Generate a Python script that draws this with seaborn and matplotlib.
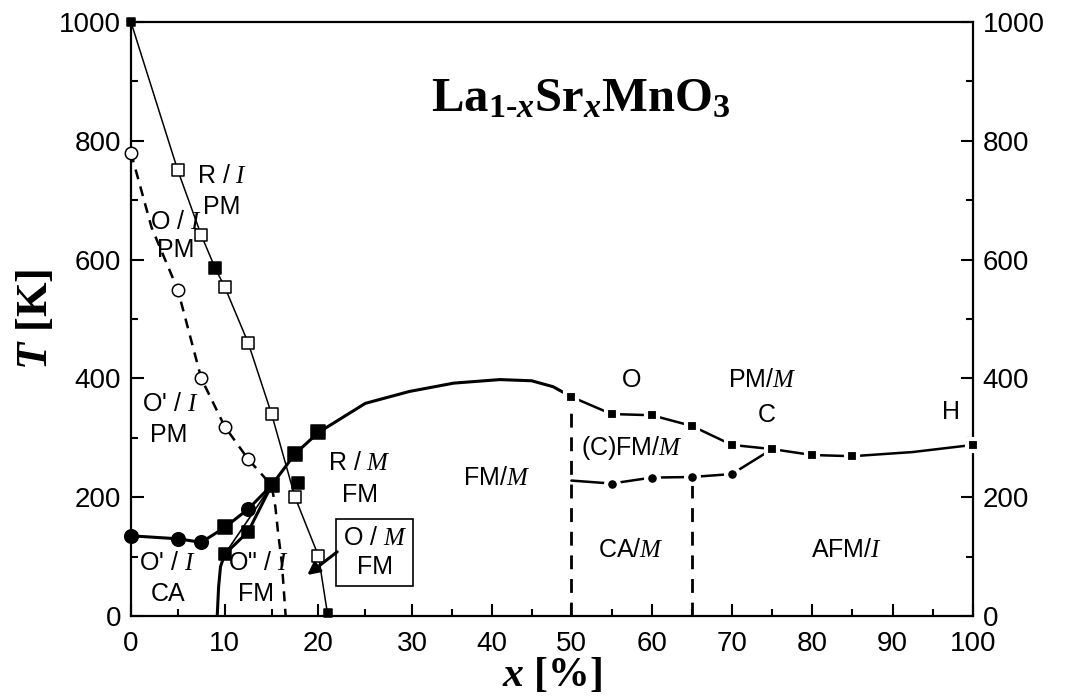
import numpy as np
import pandas as pd
import matplotlib
matplotlib.use("Agg")
import matplotlib.pyplot as plt
from matplotlib.ticker import MultipleLocator, FixedLocator
import seaborn as sns

# ---------------- data ----------------
# R/I -> O/I structural boundary (thin solid line)
ri_x = [0, 5, 7.5, 9, 10, 12.5, 15, 17.5, 20, 21]
ri_T = [1000, 750, 641, 585, 554, 460, 340, 200, 101, 0]
ri_open_x = [5, 7.5, 10, 12.5, 15, 17.5, 20]
ri_open_T = [750, 641, 554, 460, 340, 200, 101]
ri_fill_x = [9, 17.8]
ri_fill_T = [585, 224]
ri_small_x = [0, 21]
ri_small_T = [1000, 5]

# O/O' boundary (dashed line)
oo_x = [0, 2.2, 5, 7.5, 10, 12.5, 15, 15.4, 15.7, 16.1, 16.3, 16.5]
oo_T = [780, 654, 549, 400, 319, 264, 220, 184, 139, 89, 44, 0]
oo_circ_x = [0, 5, 7.5, 10, 12.5]
oo_circ_T = [780, 549, 400, 319, 264]

# Curie temperature line (thick solid)
tc_x = [0, 5, 7.5, 10, 12.5, 15, 17.5, 20, 25, 29.7, 35.2, 41, 45, 47.7, 50]
tc_T = [135, 130, 124, 149, 180, 220, 273, 309, 358, 378, 392, 398, 396, 386, 369]
tc_circ_x = [0, 5, 7.5, 12.5]
tc_circ_T = [135, 130, 124, 180]
tc_sq_x = [10, 15, 17.5, 20]
tc_sq_T = [149, 220, 273, 309]

# O'' boundary
o2_x = [9.2, 9.35, 9.55, 10, 12.5, 15]
o2_T = [0, 49, 83, 104, 142, 220]
o2_thin_x = [10, 15]
o2_thin_T = [104, 220]
o2_sq_x = [10, 12.5]
o2_sq_T = [104, 142]

# high-x region
up_x = [50, 55, 60, 65, 70, 75, 80, 85, 92.5, 100]
up_T = [369, 340, 338, 320, 288, 281, 271, 269, 276, 288]
up_sq_x = [50, 55, 60, 65, 70, 75, 80, 85, 100]
up_sq_T = [369, 340, 338, 320, 288, 281, 271, 269, 288]
lo_x = [50, 55, 60, 65, 70, 75]
lo_T = [228, 223, 233, 234, 239, 281]
lo_circ_x = [55, 60, 65, 70]
lo_circ_T = [223, 233, 234, 239]

# vertical phase boundaries (dashed)
vline_x = [50, 65]
vline_top = [369, 234]

# region labels: (x, T, text)
lab_x = [9.7, 9.7, 4.8, 4.8, 4.2, 4.0, 3.9, 4.0, 13.6, 13.3, 24.4, 24.4,
         40.6, 57.5, 73.8, 74.3, 97.3, 57.5, 57.4, 84.3]
lab_T = [740, 688, 664, 616, 357, 305, 89, 37, 89, 37, 257, 204,
         232, 397, 397, 338, 344, 283, 111, 111]
lab_s = [r"R / $\mathcal{I}$", "PM", r"O / $\mathcal{I}$", "PM",
         r"O' / $\mathcal{I}$", "PM", r"O' / $\mathcal{I}$", "CA",
         r'O" / $\mathcal{I}$', "FM", r"R / $\mathcal{M}$", "FM",
         r"FM/$\mathcal{M}$", "O", r"PM/$\mathcal{M}$", "C", "H",
         r"(C)FM/$\mathcal{M}$", r"CA/$\mathcal{M}$", r"AFM/$\mathcal{I}$"]
box_x, box_T, box_s = 26.0, 107, "O / $\\mathcal{M}$\nFM"
arrow_x, arrow_T = 18.8, 69
title_x, title_T = 51.2, 869

x_ticks = list(range(0, 101, 10))
y_ticks = list(range(0, 1001, 200))

# ---------------- style ----------------
sns.set_theme(style="ticks")
plt.rcParams.update({
    "font.family": ["Liberation Sans", "DejaVu Sans"],
    "text.color": "black",
    "axes.labelcolor": "black",
    "xtick.color": "black",
    "ytick.color": "black",
    "mathtext.fontset": "custom",
    "mathtext.it": "Liberation Serif:italic:bold",
    "mathtext.rm": "Liberation Serif:bold",
    "mathtext.bf": "Liberation Serif:bold",
    "mathtext.cal": "Liberation Serif:italic",
})

fig, ax = plt.subplots(figsize=(10.69, 7.0), dpi=100)
fig.subplots_adjust(left=0.1225, right=0.910, bottom=0.12, top=0.9686)

# the printed x axis is stretched below 30 %: piecewise-linear axis scale
_kx = np.array([0.0, 30.0, 50.0, 100.0])
_kp = np.array([0.0, 281.0, 440.0, 841.0])
def _fwd(v):
    return np.interp(v, _kx, _kp)
def _inv(v):
    return np.interp(v, _kp, _kx)
ax.set_xscale("function", functions=(_fwd, _inv))

K = "black"

def line(x, y, lw=1.0, ls="-", z=2):
    sns.lineplot(x=x, y=y, sort=False, estimator=None, color=K, lw=lw,
                 linestyle=ls, ax=ax, zorder=z)

line(ri_x, ri_T, lw=1.1)
line(oo_x, oo_T, lw=1.8, ls=(0, (4, 3)))
line(tc_x, tc_T, lw=2.2)
line(o2_x, o2_T, lw=2.2)
line(o2_thin_x, o2_thin_T, lw=1.2)
line(up_x, up_T, lw=1.8)
line(lo_x, lo_T, lw=1.8)
for vx, vt in zip(vline_x, vline_top):
    line([vx, vx], [0, vt], lw=2.0, ls=(0, (5, 3.5)))

def pts(x, y, m, s, fc, ec="black", lw=1.1):
    sns.scatterplot(x=x, y=y, marker=m, s=s, color=fc, edgecolor=ec,
                    linewidth=lw, ax=ax, zorder=4, clip_on=False)

pts(ri_open_x, ri_open_T, "s", 85, "white")
pts(ri_fill_x, ri_fill_T, "s", 80, "black")
pts(ri_small_x, ri_small_T, "s", 35, "black")
pts(oo_circ_x, oo_circ_T, "o", 80, "white")
pts(tc_circ_x, tc_circ_T, "o", 95, "black")
pts(tc_sq_x, tc_sq_T, "s", 95, "black")
pts(o2_sq_x, o2_sq_T, "s", 85, "black")
pts(up_sq_x, up_sq_T, "s", 80, "black", ec="white", lw=3)
pts(lo_circ_x, lo_circ_T, "o", 85, "black", ec="white", lw=3)

for x, t, s in zip(lab_x, lab_T, lab_s):
    ax.text(x, t, s, ha="center", va="center", fontsize=18, color=K, zorder=5)

ax.text(box_x, box_T, box_s, ha="center", va="center", fontsize=18,
        linespacing=1.3, zorder=5, color=K,
        bbox=dict(boxstyle="square,pad=0.25", fc="white", ec="black", lw=1.2))
ax.annotate("", xy=(arrow_x, arrow_T), xytext=(22.0, 108),
            arrowprops=dict(arrowstyle="-|>", color=K, lw=2.2,
                            mutation_scale=18, shrinkA=0, shrinkB=0),
            zorder=5)

ax.text(title_x, title_T, r"La$_{\mathrm{1\text{-}}x}$Sr$_{x}$MnO$_{\mathrm{3}}$",
        ha="center", va="center", fontsize=35, family="Liberation Serif",
        weight="bold", zorder=5, color=K)

# ---------------- axes ----------------
ax.set_xlim(0, 100)
ax.set_ylim(0, 1000)
ax.xaxis.set_major_locator(FixedLocator(x_ticks))
ax.xaxis.set_minor_locator(FixedLocator(list(range(5, 100, 10))))
ax.set_xticklabels([str(v) for v in x_ticks])
ax.set_yticks(y_ticks)
ax.yaxis.set_minor_locator(MultipleLocator(100))
ax.tick_params(axis="both", which="both", direction="in", width=1.5,
               colors=K, labelsize=20, pad=7)
ax.tick_params(axis="x", which="major", pad=11)
ax.tick_params(axis="both", which="major", length=9)
ax.tick_params(axis="both", which="minor", length=5)
ax.tick_params(axis="y", which="both", left=True, right=True,
               labelleft=True, labelright=True)
ax.tick_params(axis="x", which="both", top=False, bottom=True)
for sp in ax.spines.values():
    sp.set_visible(True)
    sp.set_linewidth(1.6)
    sp.set_color(K)

ax.set_xlabel(r"$x$ [%]", fontsize=30, family="Liberation Serif",
              weight="bold", labelpad=-1, color=K)
ax.set_ylabel(r"$T$ [K]", fontsize=32, family="Liberation Serif",
              weight="bold", labelpad=2, color=K)

fig.savefig("out.png", dpi=100, facecolor="white")
